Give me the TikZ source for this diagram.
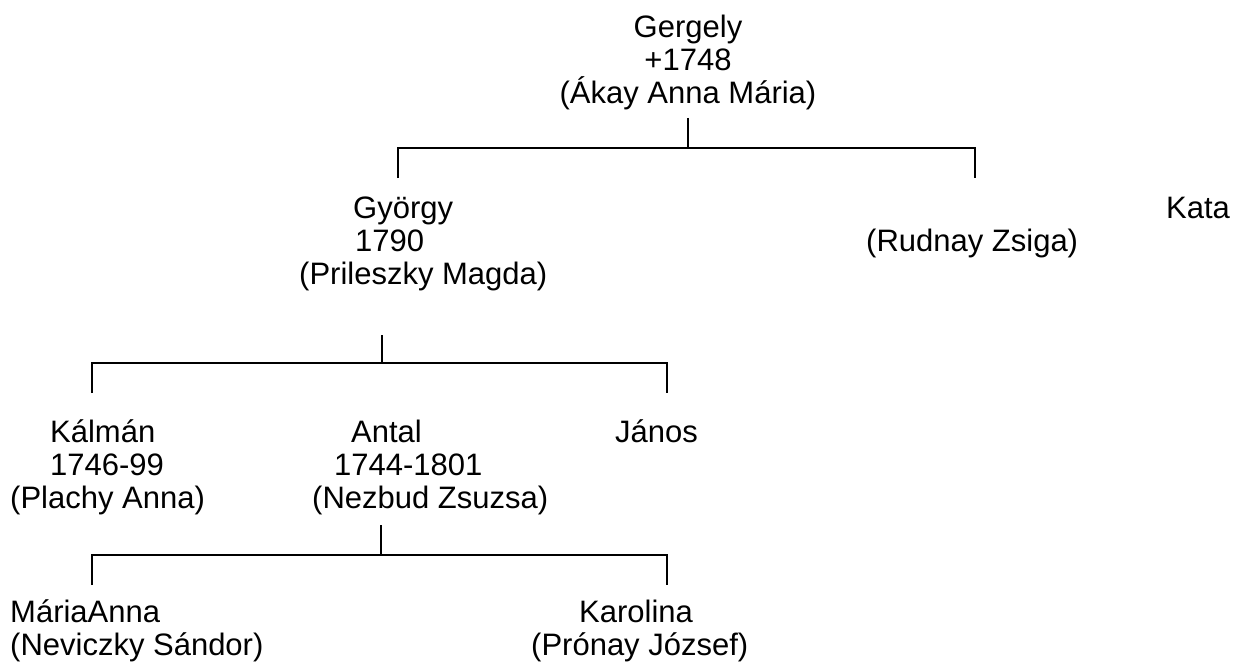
\documentclass[tikz,border=0pt]{standalone}
\usepackage{fontspec}
\setmainfont{Liberation Sans}
\usetikzlibrary{positioning}
\newcommand{\pstrut}{\rule{0pt}{30pt}}
\tikzset{pers/.style={align=left, inner sep=0pt, anchor=north west, font=\fontsize{31pt}{33pt}\selectfont}}
\tikzset{ln/.style={line width=1.6pt}}

\begin{document}
\begin{tikzpicture}[x=1pt, y=-1pt]
\useasboundingbox (0,0) rectangle (1239,666);

\node[pers, align=center, anchor=north] (gergely) at (688, 7) {\pstrut Gergely\\+1748\\(Ákay Anna Mária)};
\node[pers] (gyorgy) at (299, 188) {\pstrut\hspace*{54pt}György\\\hspace*{56pt}1790\\(Prileszky Magda)};
\node[pers] (kata) at (866, 188) {\pstrut\hspace*{300pt}Kata\\(Rudnay Zsiga)};
\node[pers] (kalman) at (10, 412) {\pstrut\hspace*{40pt}Kálmán\\\hspace*{40pt}1746-99\\(Plachy Anna)};
\node[pers] (antal) at (312, 412) {\pstrut\hspace*{39pt}Antal\\\hspace*{22pt}1744-1801\\(Nezbud Zsuzsa)};
\node[pers] (janos) at (615, 412) {\pstrut János};
\node[pers] (maria) at (10, 592) {\pstrut MáriaAnna\\(Neviczky Sándor)};
\node[pers] (karolina) at (531, 592) {\pstrut\hspace*{48pt}Karolina\\(Prónay József)};

\coordinate (gergely-stem) at (688, 118);
\coordinate (gergely-bus) at (688, 148);
\coordinate (gyorgy-drop) at (398, 178);
\coordinate (kata-drop) at (975, 178);
\draw[ln] (gergely-stem) -- (gergely-bus);
\draw[ln] (gyorgy-drop) |- (gergely-bus) -| (kata-drop);

\coordinate (gyorgy-stem) at (382, 335);
\coordinate (gyorgy-bus) at (382, 363);
\coordinate (kalman-drop) at (92, 393);
\coordinate (janos-drop) at (667, 393);
\draw[ln] (gyorgy-stem) -- (gyorgy-bus);
\draw[ln] (kalman-drop) |- (gyorgy-bus) -| (janos-drop);

\coordinate (antal-stem) at (381, 525);
\coordinate (antal-bus) at (381, 555);
\coordinate (maria-drop) at (92, 585);
\coordinate (karolina-drop) at (667, 585);
\draw[ln] (antal-stem) -- (antal-bus);
\draw[ln] (maria-drop) |- (antal-bus) -| (karolina-drop);
\end{tikzpicture}
\end{document}
